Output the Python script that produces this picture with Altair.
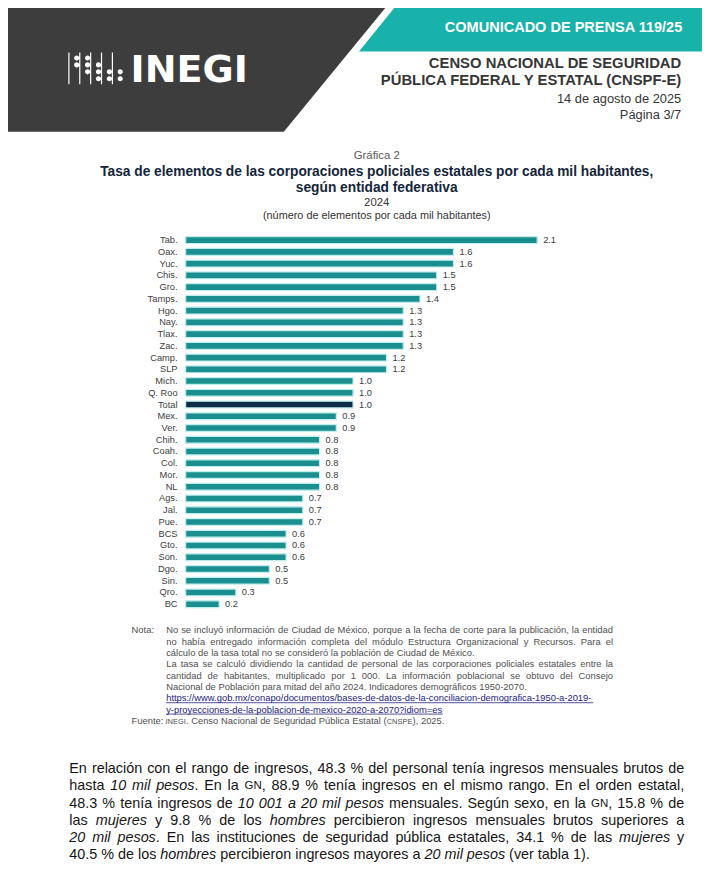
import unicodedata
import altair as alt
import pandas as pd

# ---------------- data ----------------
entidades = ["Tab.", "Oax.", "Yuc.", "Chis.", "Gro.", "Tamps.", "Hgo.", "Nay.", "Tlax.", "Zac.",
             "Camp.", "SLP", "Mich.", "Q. Roo", "Total", "Mex.", "Ver.", "Chih.", "Coah.", "Col.",
             "Mor.", "NL", "Ags.", "Jal.", "Pue.", "BCS", "Gto.", "Son.", "Dgo.", "Sin.", "Qro.", "BC"]
tasas = [2.1, 1.6, 1.6, 1.5, 1.5, 1.4, 1.3, 1.3, 1.3, 1.3,
         1.2, 1.2, 1.0, 1.0, 1.0, 0.9, 0.9, 0.8, 0.8, 0.8,
         0.8, 0.8, 0.7, 0.7, 0.7, 0.6, 0.6, 0.6, 0.5, 0.5, 0.3, 0.2]

comunicado = "COMUNICADO DE PRENSA 119/25"
encabezado = ["CENSO NACIONAL DE SEGURIDAD", "PÚBLICA FEDERAL Y ESTATAL (CNSPF-E)"]
fecha = "14 de agosto de 2025"
pagina = "Página 3/7"
logo = "INEGI"
grafica = "Gráfica 2"
titulo = ["Tasa de elementos de las corporaciones policiales estatales por cada mil habitantes,",
          "según entidad federativa"]
anio = "2024"
unidad = "(número de elementos por cada mil habitantes)"
nota_rotulo = "Nota:"
nota_lineas = [
    "No se incluyó información de Ciudad de México, porque a la fecha de corte para la publicación, la entidad",
    "no había entregado información completa del módulo Estructura Organizacional y Recursos. Para el",
    "cálculo de la tasa total no se consideró la población de Ciudad de México.",
    "La tasa se calculó dividiendo la cantidad de personal de las corporaciones policiales estatales entre la",
    "cantidad de habitantes, multiplicado por 1 000. La información poblacional se obtuvo del Consejo",
    "Nacional de Población para mitad del año 2024. Indicadores demográficos 1950-2070.",
]
nota_justificada = [True, True, False, True, True, False]
liga = ["https://www.gob.mx/conapo/documentos/bases-de-datos-de-la-conciliacion-demografica-1950-a-2019-",
        "y-proyecciones-de-la-poblacion-de-mexico-2020-a-2070?idiom=es"]
fuente_rotulo = "Fuente:"
fuente = "^inegi^. Censo Nacional de Seguridad Pública Estatal (^cnspe^), 2025."
parrafo = [
    "En relación con el rango de ingresos, 48.3 % del personal tenía ingresos mensuales brutos de",
    "hasta *10 mil pesos*. En la ^gn^, 88.9 % tenía ingresos en el mismo rango. En el orden estatal,",
    "48.3 % tenía ingresos de *10 001 a 20 mil pesos* mensuales. Según sexo, en la ^gn^, 15.8 % de",
    "las *mujeres* y 9.8 % de los *hombres* percibieron ingresos mensuales brutos superiores a",
    "*20 mil pesos*. En las instituciones de seguridad pública estatales, 34.1 % de las *mujeres* y",
    "40.5 % de los *hombres* percibieron ingresos mayores a *20 mil pesos* (ver tabla 1).",
]

# ---------------- styles / layout ----------------
OFF = 8
SANS = "Liberation Sans"
TEAL = "#1b8f8f"
NAVY = "#0c2c47"
HEAD_TEAL = "#19b2aa"
DARK = "#3d3d3d"


def _table(groups):
    d = {}
    for w, chars in groups.items():
        for c in chars:
            d[c] = w
    return d


REG = _table({191: "'", 222: "ijl", 278: " ,./:;!ftI[]", 333: "r()-", 355: '"', 500: "cksvxyzJ",
              556: "abdeghnopqu0123456789L?_$#", 584: "+=<>", 611: "FTZ", 667: "ABEKPSVXY&",
              722: "CDHNRUw", 778: "GOQ", 833: "mM", 889: "%", 944: "W", 1015: "@"})
BOLD = _table({278: " ,./ijlI!'[]", 333: "ft()-:;", 389: "r", 474: '"', 500: "z",
               556: "acekvsxyJ0123456789?$#_", 584: "+=<>", 611: "bdghnopquFTZL", 667: "EPVXY",
               722: "ABCDHKNRU&", 778: "GOQw", 833: "M", 889: "m%", 944: "W", 975: "@"})


def em(text, bold=False):
    tb = BOLD if bold else REG
    tot = 0
    for c in text:
        if c == "í" and not bold:
            tot += 278
            continue
        b = unicodedata.normalize("NFD", c)[0]
        tot += tb.get(b, 556)
    return tot / 1000.0


def plain(markup, sc=0.8):
    tot = 0.0
    for t, st in parse(markup):
        tot += em(t.upper()) * sc if st == "s" else em(t)
    return tot


items = []
rules = []


def add(t, x, yc, s, font=SANS, weight="normal", style="normal", color="#222222", align="left"):
    items.append(dict(t=t, x=x - OFF, y=yc + 0.35 * s - OFF, s=s, font=font, weight=weight,
                      style=style, color=color, align=align))


def parse(markup):
    runs, cur, st = [], "", "n"
    for ch in markup:
        if ch in "*^":
            if cur:
                runs.append((cur, st))
            cur = ""
            mark = "i" if ch == "*" else "s"
            st = "n" if st == mark else mark
        else:
            cur += ch
    if cur:
        runs.append((cur, st))
    return runs


def set_line(markup, x0, x1, yc, size, justify, color, sc=0.8):
    words = [[]]
    for text, st in parse(markup):
        parts = text.split(" ")
        for k, p in enumerate(parts):
            if k > 0:
                words.append([])
            if p:
                words[-1].append((p, st))
    words = [w for w in words if w]

    def fw(fr):
        t, st = fr
        if st == "s":
            return em(t.upper()) * size * sc
        return em(t) * size

    wws = [sum(fw(f) for f in w) for w in words]
    if justify and len(words) > 1:
        gap = (x1 - x0 - sum(wws)) / (len(words) - 1)
    else:
        gap = em(" ") * size
    x = x0
    for w, ww in zip(words, wws):
        xx = x
        for t, st in w:
            if st == "s":
                add(t.upper(), xx, yc, size * sc, color=color)
            else:
                add(t, xx, yc, size, style="italic" if st == "i" else "normal", color=color)
            xx += fw((t, st))
        x += ww + gap
    return x - gap


# header texts (right aligned block)
HEAD_C = "#363636"
add(comunicado, 690, 22, 14.7, weight="bold", color="#ffffff", align="right")
add(encabezado[0], 689, 58, 15.0, weight="bold", color=HEAD_C, align="right")
add(encabezado[1], 689, 76, 15.0, weight="bold", color=HEAD_C, align="right")
add(fecha, 689, 94, 13.0, color=HEAD_C, align="right")
add(pagina, 689, 111, 13.0, color=HEAD_C, align="right")
add(logo, 132, 64, 38.5, font="DejaVu Sans", weight="bold", color="#ffffff")

# chart titles
CX = 381
add(grafica, CX, 152, 11.5, color="#595959", align="center")
add(titulo[0], CX, 168, 13.9, weight="bold", color="#14253a", align="center")
add(titulo[1], CX, 184, 13.9, weight="bold", color="#14253a", align="center")
add(anio, CX, 199, 11.5, color="#333333", align="center")
add(unidad, CX, 212, 11, color="#333333", align="center")

# notes
NX0, NX1 = 168, 620
NS = min(10.0, 0.985 * (NX1 - NX0) / max(plain(l) for l, j in zip(nota_lineas, nota_justificada) if j))
NOTE_C = "#505050"
NY0, NSTEP = 632, 11.5
add(nota_rotulo, 133, NY0, NS, color=NOTE_C)
for i, (ln, j) in enumerate(zip(nota_lineas, nota_justificada)):
    set_line(ln, NX0, NX1, NY0 + i * NSTEP, NS, j, NOTE_C)
for k, ln in enumerate(liga):
    yc = NY0 + (len(nota_lineas) + k) * NSTEP
    add(ln, NX0, yc, NS, color="#23237e")
    rules.append(dict(x=NX0 - OFF, x2=NX0 + em(ln) * NS - OFF, y=yc + 0.35 * NS + 1.3 - OFF))
yf = NY0 + (len(nota_lineas) + len(liga)) * NSTEP
add(fuente_rotulo, 133, yf, NS, color=NOTE_C)
set_line(fuente, 133 + em(fuente_rotulo) * NS + 2, NX1, yf, NS, False, NOTE_C)

# body paragraph
PX0, PX1 = 70, 692
PS = min(15.0, 0.975 * (PX1 - PX0) / max(plain(l) for l in parrafo[:-1]))
PY0, PSTEP = 772, 17.3
for i, ln in enumerate(parrafo):
    set_line(ln, PX0, PX1, PY0 + i * PSTEP, PS, i < len(parrafo) - 1, "#151515")

one = pd.DataFrame({"k": [0]})

# header shapes (custom symbol path at size 4 -> pixel units)
dark_path = "M -8 -8 L 384 -8 L 279 120 L -8 120 Z"
teal_path = "M 393 -8 L 710 -8 L 710 39 L 355 39 Z"


def dots_path():
    p = []
    cols = [67, 78, 89, 100, 111]
    rows = [43, 50, 57, 64]
    filled = [[0, 1], [0, 1, 2], [1, 2, 3], [2, 3], [2, 3]]
    r = 2.6
    for cx, rr in zip(cols, filled):
        p.append(f"M {cx - 6} 40 h 1.2 v 32 h -1.2 Z")
        for ri in rr:
            cy = rows[ri] + 2.5
            p.append(f"M {cx + 2.5 - r} {cy} a {r} {r} 0 1 0 {2 * r} 0 a {r} {r} 0 1 0 {-2 * r} 0 Z")
    return " ".join(p)


def shape_layer(path, color):
    return alt.Chart(one).mark_point(shape=path, size=4, filled=True, color=color, opacity=1,
                                     strokeWidth=0).encode(x=alt.value(0), y=alt.value(0))


layers = [shape_layer(dark_path, DARK), shape_layer(teal_path, HEAD_TEAL),
          shape_layer(dots_path(), "#ffffff")]

tdf = pd.DataFrame(items)
for key, g in tdf.groupby(["font", "weight", "style", "color", "align"]):
    font, weight, style, color, align = key
    layers.append(
        alt.Chart(g[["t", "x", "y", "s"]]).mark_text(
            align=align, baseline="alphabetic", font=font, fontWeight=weight, fontStyle=style, color=color
        ).encode(
            x=alt.X("x:Q", scale=None, axis=None),
            y=alt.Y("y:Q", scale=None, axis=None),
            text="t:N",
            size=alt.Size("s:Q", scale=None, legend=None),
        )
    )

layers.append(
    alt.Chart(pd.DataFrame(rules)).mark_rule(color="#23237e", strokeWidth=0.8).encode(
        x=alt.X("x:Q", scale=None, axis=None), x2="x2:Q", y=alt.Y("y:Q", scale=None, axis=None)
    )
)

# ---------------- bar chart ----------------
STEP = 11.88
Y_FIRST = 237.7 - OFF
band0 = Y_FIRST - STEP / 2
band1 = band0 + STEP * len(entidades)
yscale = alt.Scale(domain=entidades, range=[band0, band1], paddingInner=0.42, paddingOuter=0.21)
xscale = alt.Scale(domain=[0, 2.1], range=[187.7 - OFF, 543.3 - OFF], nice=False, zero=True)

bdf = pd.DataFrame({"entidad": entidades, "tasa": tasas})
base = alt.Chart(bdf)
ye = alt.Y("entidad:N", scale=yscale, axis=None)
xe = alt.X("tasa:Q", scale=xscale, axis=None)

bars = base.mark_bar(stroke="#bfeeee", strokeWidth=1.2).encode(
    x=xe, y=ye,
    color=alt.condition(alt.datum.entidad == "Total", alt.value(NAVY), alt.value(TEAL)),
)
vals = base.mark_text(align="left", baseline="middle", dx=6, font=SANS, fontSize=9.4, color="#404040").encode(
    x=xe, y=ye, text=alt.Text("tasa:Q", format=".1f")
)
cats = base.mark_text(align="right", baseline="middle", font=SANS, fontSize=9.4, color="#404040").encode(
    x=alt.value(179.5 - OFF), y=ye, text="entidad:N"
)
barchart = alt.layer(bars, vals, cats)
layers.append(barchart)

chart = alt.layer(*layers).resolve_scale(x="independent", y="independent").properties(
    width=702, height=885, padding=0, autosize=alt.AutoSizeParams(type="none"), background="#ffffff"
).configure_view(stroke=None)

chart.save("out.html", embed_options={"renderer": "svg", "actions": False})
